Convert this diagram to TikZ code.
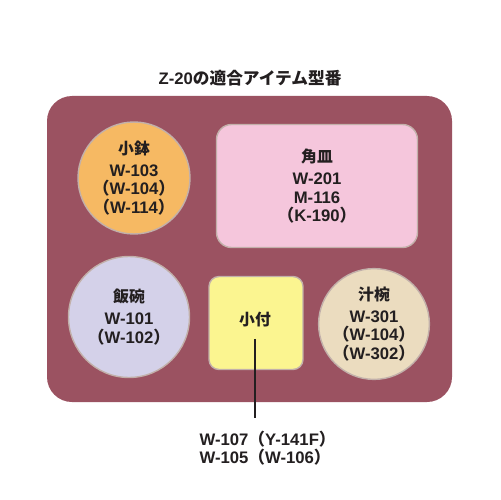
\documentclass[tikz,border=0pt]{standalone}
\usepackage{fontspec}
\setmainfont{Liberation Sans}
\newfontfamily\jp{Noto Sans CJK JP}
\usetikzlibrary{positioning}
\definecolor{Granate}{HTML}{9B5261}
\definecolor{Naranja}{HTML}{F6B963}
\definecolor{Rosa}{HTML}{F5C6DC}
\definecolor{Lila}{HTML}{D4D1E9}
\definecolor{Amarillo}{HTML}{FBF590}
\definecolor{Beige}{HTML}{EBDCBF}
\definecolor{Borde}{HTML}{C2B0AA}
\definecolor{Texto}{HTML}{231F20}
\newcommand{\kakko}[1]{{\jp （}#1{\jp ）}}
\newcommand{\meishou}[1]{{\jp\fontsize{9}{9.5}\selectfont #1}}

\begin{document}
\begin{tikzpicture}[
  x=0.02cm,y=-0.02cm,
  every node/.style={font=\bfseries\fontsize{9.5}{10.6}\selectfont,text=Texto},
  plato/.style={draw=Borde,line width=0.8pt,align=center,inner sep=0pt},
  redondo/.style={plato,circle,minimum size=2.24cm}
]
  \useasboundingbox (0,0) rectangle (500,500);
  \node (titulo) at (250,78) {Z-20{\jp の適合アイテム型番}};

  % Bandeja
  \fill[Granate,rounded corners=0.5cm] (47,96) rectangle (452,402);

  % Platos de arriba
  \node[redondo,fill=Naranja] (kobachi) at (134,178)
    {\meishou{小鉢}\\[2pt] W-103\\ \kakko{W-104}\\ \kakko{W-114}};
  \node[plato,fill=Rosa,rounded corners=0.3cm,minimum width=4.02cm,
    minimum height=2.46cm] (kakuzara) at (317,186)
    {\meishou{角皿}\\[2pt] W-201\\ M-116\\ \kakko{K-190}};

  % Platos de abajo
  \node[redondo,fill=Lila,minimum size=2.42cm] (hanwan) at (129,317)
    {\meishou{飯碗}\\[2pt] W-101\\ \kakko{W-102}};
  \node[plato,fill=Amarillo,rounded corners=0.2cm,minimum width=1.88cm,
    minimum height=1.86cm] (kotsukeCaja) at (256,323) {};
  \node (kotsuke) at (255,320) {\meishou{小付}};
  \node[redondo,fill=Beige,minimum size=2.2cm] (shiruwan) at (374,324)
    {\meishou{汁椀}\\[2pt] W-301\\ \kakko{W-104}\\ \kakko{W-302}};

  % Referencias del plato pequeño
  \node[anchor=north west,align=left,inner sep=3pt] (bangou) at (194,425)
    {W-107\kakko{Y-141F}\\ W-105\kakko{W-106}};
  \draw[Texto,line width=0.6pt,shorten <=3pt,shorten >=4pt]
    (kotsuke.south) -- (kotsuke.south |- bangou.north);
\end{tikzpicture}
\end{document}
